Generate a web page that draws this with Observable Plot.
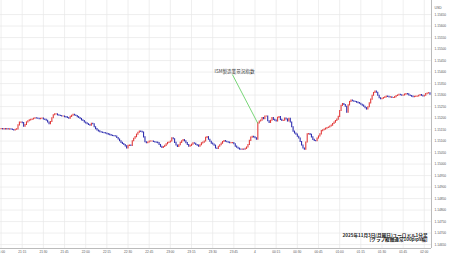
<!DOCTYPE html>
<html><head><meta charset="utf-8">
<script src="https://cdn.jsdelivr.net/npm/d3@7"></script>
<script src="https://cdn.jsdelivr.net/npm/@observablehq/plot@0.6"></script>
<style>
html,body{margin:0;padding:0;background:#fff;}
#chart{width:450px;height:258px;overflow:hidden;}
</style></head><body><div id="chart"></div>
<script>
// EUR/USD 1-minute closes, one per minute starting 21:00 (2025-11-03 JST)
const closes = [
1.15152,1.15151,1.15152,1.15150,1.15152,1.15150,1.15151,1.15150,1.15148,1.15146,
1.15149,1.15151,1.15168,1.15180,1.15181,1.15178,1.15162,1.15170,1.15181,1.15186,
1.15190,1.15192,1.15194,1.15197,1.15199,1.15198,1.15197,1.15195,1.15197,1.15198,
1.15194,1.15192,1.15188,1.15181,1.15173,1.15183,1.15199,1.15212,1.15216,1.15216,
1.15212,1.15210,1.15209,1.15207,1.15207,1.15204,1.15203,1.15200,1.15197,1.15205,
1.15210,1.15214,1.15211,1.15209,1.15204,1.15200,1.15196,1.15190,1.15187,1.15181,
1.15177,1.15173,1.15170,1.15167,1.15175,1.15173,1.15160,1.15152,1.15146,1.15142,
1.15138,1.15137,1.15135,1.15134,1.15133,1.15130,1.15128,1.15126,1.15123,1.15122,
1.15121,1.15120,1.15113,1.15107,1.15099,1.15092,1.15087,1.15083,1.15077,1.15068,
1.15079,1.15080,1.15079,1.15099,1.15110,1.15117,1.15128,1.15136,1.15141,1.15140,
1.15137,1.15116,1.15095,1.15091,1.15094,1.15098,1.15098,1.15098,1.15096,1.15094,
1.15093,1.15091,1.15083,1.15075,1.15070,1.15074,1.15079,1.15086,1.15092,1.15094,
1.15098,1.15112,1.15108,1.15092,1.15081,1.15074,1.15082,1.15092,1.15099,1.15104,
1.15099,1.15091,1.15083,1.15076,1.15079,1.15084,1.15090,1.15088,1.15083,1.15080,
1.15076,1.15082,1.15090,1.15093,1.15098,1.15114,1.15117,1.15106,1.15097,1.15089,
1.15085,1.15080,1.15068,1.15066,1.15075,1.15082,1.15089,1.15096,1.15100,1.15097,
1.15095,1.15093,1.15091,1.15091,1.15091,1.15086,1.15076,1.15071,1.15067,1.15063,
1.15062,1.15063,1.15062,1.15066,1.15072,1.15083,1.15101,1.15115,1.15119,1.15116,
1.15112,1.15106,1.15177,1.15185,1.15189,1.15200,1.15195,1.15207,1.15207,1.15186,
1.15179,1.15188,1.15200,1.15192,1.15189,1.15185,1.15201,1.15204,1.15192,1.15187,
1.15188,1.15198,1.15194,1.15185,1.15197,1.15181,1.15160,1.15141,1.15133,1.15128,
1.15119,1.15111,1.15096,1.15081,1.15068,1.15063,1.15094,1.15129,1.15130,1.15127,
1.15116,1.15105,1.15100,1.15099,1.15111,1.15120,1.15129,1.15143,1.15147,1.15150,
1.15154,1.15157,1.15159,1.15163,1.15167,1.15174,1.15180,1.15187,1.15193,1.15205,
1.15231,1.15253,1.15261,1.15257,1.15249,1.15223,1.15255,1.15270,1.15276,1.15273,
1.15271,1.15270,1.15267,1.15265,1.15262,1.15258,1.15254,1.15249,1.15243,1.15237,
1.15247,1.15264,1.15280,1.15297,1.15309,1.15315,1.15310,1.15297,1.15286,1.15282,
1.15284,1.15287,1.15290,1.15293,1.15292,1.15290,1.15290,1.15287,1.15287,1.15291,
1.15296,1.15298,1.15301,1.15299,1.15297,1.15298,1.15302,1.15304,1.15303,1.15298,
1.15296,1.15293,1.15291,1.15292,1.15293,1.15294,1.15297,1.15300,1.15297,1.15294,
1.15297,1.15304,1.15307,1.15308,1.15301
];

// x ticks: minutes after 21:00 and their labels
const xTickMinutes = [0,15,30,45,60,75,90,105,120,135,150,165,180,195,210,225,240,255,270,285,300];
const xTickLabels = ["21:00","21:15","21:30","21:45","22:00","22:15","22:30","22:45","23:00","23:15","23:30","23:45","4","00:15","00:30","00:45","01:00","01:15","01:30","01:45","02:00"];

// y ticks (USD)
const yTicks = [1.14650,1.14700,1.14750,1.14800,1.14850,1.14900,1.14950,1.15000,1.15050,1.15100,1.15150,1.15200,1.15250,1.15300,1.15350,1.15400,1.15450,1.15500,1.15550,1.15600,1.15650];
const yTickLabels = ["1.14650","1.14700","1.14750","1.14800","1.14850","1.14900","1.14950","1.15000","1.15050","1.15100","1.15150","1.15200","1.15250","1.15300","1.15350","1.15400","1.15450","1.15500","1.15550","1.15600","1.15650"];

const xDomain = [-0.4, 305.1];
const yDomain = [1.14633, 1.15711];

const annotation = [{label: "ISM製造業景況指数", labelMinute: 165.5, labelPrice: 1.15404, lineMinute: 164, linePrice: 1.15389, eventMinute: 182}];
const captionLines = ["2025年11月3日(月曜日)ユーロドル1分足", "[グラフ縦軸通常100pips幅]"];
const axisUnit = ["USD"];

const UP = "#e23a3a", DOWN = "#2e2eb0";

const candles = closes.map((c, i) => ({t: i, open: i ? closes[i - 1] : c, close: c}));
const annoLinks = annotation.map(a => ({...a, eventPrice: closes[a.eventMinute]}));

const tickFont = "'Liberation Sans', Arial, sans-serif";
const cjkFont = "'Noto Sans CJK JP', sans-serif";

const chart = Plot.plot({
  width: 450, height: 258,
  marginLeft: 0, marginRight: 19, marginTop: 0, marginBottom: 10,
  style: {background: "#fff", fontFamily: tickFont, overflow: "visible"},
  x: {domain: xDomain, axis: null},
  y: {domain: yDomain, axis: null},
  marks: [
    Plot.gridX(xTickMinutes, {stroke: "#e8e8e8", strokeOpacity: 1, strokeWidth: 0.7}),
    Plot.gridY(yTicks, {stroke: "#e8e8e8", strokeOpacity: 1, strokeWidth: 0.7}),
    Plot.ruleY([yDomain[0]], {stroke: "#aaaaaa", strokeWidth: 0.8}),
    Plot.ruleX([xDomain[1]], {stroke: "#aaaaaa", strokeWidth: 0.8}),
    Plot.axisX({ticks: xTickMinutes, tickSize: 0, tickPadding: 2.5, fontSize: 3.2, fill: "#555",
      tickFormat: d => xTickLabels[xTickMinutes.indexOf(d)]}),
    Plot.axisY({anchor: "right", ticks: yTicks, tickSize: 0, tickPadding: 3, fontSize: 3.2, fill: "#555", label: null,
      tickFormat: d => yTickLabels[yTicks.indexOf(d)]}),
    Plot.text(axisUnit, {frameAnchor: "top-right", dx: 3, dy: 6, textAnchor: "start", fontSize: 3.4, fill: "#555"}),
    Plot.ruleX(candles.filter(d => d.close < d.open), {x: "t", y1: "open", y2: "close", stroke: DOWN, strokeWidth: 1.1, strokeLinecap: "square"}),
    Plot.ruleX(candles.filter(d => d.close >= d.open), {x: "t", y1: "open", y2: "close", stroke: UP, strokeWidth: 1.1, strokeLinecap: "square"}),
    Plot.link(annoLinks, {x1: "lineMinute", y1: "linePrice", x2: "eventMinute", y2: "eventPrice", stroke: "#55cc55", strokeWidth: 0.8}),
    Plot.text(annotation, {x: "labelMinute", y: "labelPrice", text: "label", fontSize: 4.6, fill: "#333", fontFamily: cjkFont}),
    Plot.text([captionLines[0]], {frameAnchor: "bottom-right", dx: -4, dy: -12, textAnchor: "end", fontSize: 4.6, fontWeight: "bold", fill: "#222", fontFamily: cjkFont}),
    Plot.text([captionLines[1]], {frameAnchor: "bottom-right", dx: -4, dy: -7.5, textAnchor: "end", fontSize: 4.6, fontWeight: "bold", fill: "#222", fontFamily: cjkFont})
  ]
});
document.getElementById("chart").appendChild(chart);
</script></body></html>
